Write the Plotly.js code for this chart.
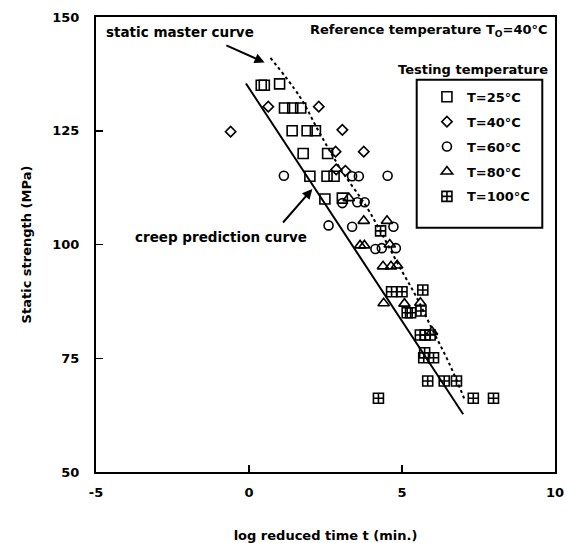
<!DOCTYPE html>
<html>
<head>
<meta charset="utf-8">
<script src="https://cdn.plot.ly/plotly-3.0.1.min.js"></script>
<style>html,body{margin:0;padding:0;background:#fff;}#chart{width:567px;height:543px;}</style>
</head>
<body>
<div id="chart"></div>
<script>
// ---- data ----
const seriesNames = ['T=25°C', 'T=40°C', 'T=60°C', 'T=80°C', 'T=100°C'];

const t25_x = [0.40, 0.50, 1.00, 1.16, 1.43, 1.69, 1.41, 1.90, 2.17, 1.77, 2.57, 1.99, 2.55, 2.78, 2.48, 3.05];
const t25_y = [135.0, 135.0, 135.3, 130.0, 130.0, 130.0, 125.0, 125.0, 125.0, 120.0, 120.0, 115.0, 115.0, 115.0, 110.0, 110.2];

const t40_x = [-0.60, 0.63, 2.28, 3.05, 2.83, 3.75, 2.85, 3.15];
const t40_y = [124.8, 130.3, 130.3, 125.2, 120.4, 120.4, 116.5, 116.2];

const t60_x = [1.14, 3.37, 3.59, 4.53, 3.05, 3.54, 3.78, 2.60, 3.37, 4.72, 4.13, 4.34, 4.80];
const t60_y = [115.1, 115.0, 115.0, 115.1, 109.1, 109.3, 109.3, 104.2, 103.9, 103.9, 99.0, 99.2, 99.2];

const t80_x = [3.26, 3.75, 4.51, 3.63, 3.77, 4.60, 4.38, 4.64, 4.84, 4.40, 5.08, 5.60, 5.98];
const t80_y = [110.2, 105.2, 105.2, 99.8, 99.8, 100.0, 95.2, 95.2, 95.4, 87.1, 87.0, 87.2, 80.8];

const t100_x = [4.30, 4.66, 5.00, 5.68, 5.17, 5.28, 5.62, 5.60, 5.76, 5.92, 5.71, 5.74, 6.03, 5.84, 6.38, 6.78, 4.23, 7.33, 7.99];
const t100_y = [103.0, 89.6, 89.6, 90.0, 85.0, 85.0, 85.4, 80.1, 80.1, 80.1, 75.1, 76.2, 75.1, 70.0, 70.0, 70.0, 66.2, 66.2, 66.2];

// creep prediction curve (solid)
const creep_x = [-0.10, 7.00];
const creep_y = [135.4, 62.7];

// static master curve (dotted)
const master_x = [0.70, 1.65, 2.30, 3.01, 3.83, 4.32, 4.91, 5.46, 6.00, 6.54, 7.03];
const master_y = [141.0, 132.6, 124.6, 116.4, 108.4, 102.6, 95.2, 88.6, 81.2, 73.9, 66.2];

const xTicks = [-5, 0, 5, 10];
const yTicks = [50, 75, 100, 125, 150];

// ---- chart ----
const FONT = {family: 'DejaVu Sans', size: 13, color: '#000', weight: 'bold'};
const symbols = ['square-open', 'diamond-open', 'circle-open', 'triangle-up-open', 'square-cross-open'];
const sizes = [10, 8, 9, 10, 10];
const xs = [t25_x, t40_x, t60_x, t80_x, t100_x];
const ys = [t25_y, t40_y, t60_y, t80_y, t100_y];

const traces = [
  {x: creep_x, y: creep_y, mode: 'lines', line: {color: '#000', width: 2}, showlegend: false, hoverinfo: 'skip'},
  {x: master_x, y: master_y, mode: 'lines', line: {color: '#000', width: 2, dash: 'dot', shape: 'spline'}, showlegend: false, hoverinfo: 'skip'}
];
for (let i = 0; i < 5; i++) {
  traces.push({
    x: xs[i], y: ys[i], name: seriesNames[i], mode: 'markers', legendgroup: 'g' + i,
    marker: {symbol: symbols[i], size: sizes[i], color: '#000', line: {color: '#000', width: 1.6}}
  });
}

const layout = {
  width: 567, height: 543,
  margin: {l: 96, r: 12, t: 17, b: 71, pad: 0},
  paper_bgcolor: '#fff', plot_bgcolor: '#fff',
  font: FONT,
  showlegend: true,
  legend: {
    x: 0.721, y: 0.8576, xanchor: 'left', yanchor: 'top',
    borderwidth: 0, bgcolor: 'rgba(0,0,0,0)',
    tracegroupgap: 5, font: FONT, traceorder: 'grouped'
  },
  shapes: [
    {type: 'rect', xref: 'paper', yref: 'paper', x0: 0.6987, x1: 0.9723, y0: 0.537, y1: 0.862,
     line: {color: '#000', width: 2}, fillcolor: 'rgba(0,0,0,0)', layer: 'above'}
  ],
  xaxis: {
    range: [-5, 10], tickvals: xTicks, ticktext: xTicks.map(String),
    ticks: 'inside', ticklen: 7, tickwidth: 1.5, tickcolor: '#000',
    showline: true, linewidth: 2, linecolor: '#000', mirror: true,
    showgrid: false, zeroline: false, ticklabelstandoff: 7,
    tickfont: FONT,
    title: {text: 'log reduced time t (min.)', font: FONT, standoff: 32}
  },
  yaxis: {
    range: [50, 150], tickvals: yTicks, ticktext: yTicks.map(String),
    ticks: 'inside', ticklen: 7, tickwidth: 1.5, tickcolor: '#000',
    showline: true, linewidth: 2, linecolor: '#000', mirror: true,
    showgrid: false, zeroline: false, ticklabelstandoff: 12,
    tickfont: FONT,
    title: {text: 'Static strength (MPa)', font: FONT, standoff: 18}
  },
  annotations: [
    {x: -4.74, y: 146.8, xref: 'x', yref: 'y', text: 'static master curve', showarrow: false, xanchor: 'left', yanchor: 'middle', font: Object.assign({}, FONT, {size: 13.5})},
    {x: 9.84, y: 147.0, xref: 'x', yref: 'y', text: 'Reference temperature T<sub>O</sub>=40°C', showarrow: false, xanchor: 'right', yanchor: 'middle', font: FONT},
    {x: 9.84, y: 138.4, xref: 'x', yref: 'y', text: 'Testing temperature', showarrow: false, xanchor: 'right', yanchor: 'middle', font: FONT},
    {x: -3.79, y: 101.7, xref: 'x', yref: 'y', text: 'creep prediction curve', showarrow: false, xanchor: 'left', yanchor: 'middle', font: Object.assign({}, FONT, {size: 13.5})},
    {x: 0.51, y: 140.0, ax: -0.79, ay: 143.9, xref: 'x', yref: 'y', axref: 'x', ayref: 'y', text: '', showarrow: true, arrowhead: 2, arrowsize: 1, arrowwidth: 2, arrowcolor: '#000'},
    {x: 2.07, y: 112.2, ax: 1.07, ay: 104.5, xref: 'x', yref: 'y', axref: 'x', ayref: 'y', text: '', showarrow: true, arrowhead: 2, arrowsize: 1, arrowwidth: 2, arrowcolor: '#000'}
  ]
};

Plotly.newPlot('chart', traces, layout, {staticPlot: true, displayModeBar: false});
</script>
</body>
</html>
